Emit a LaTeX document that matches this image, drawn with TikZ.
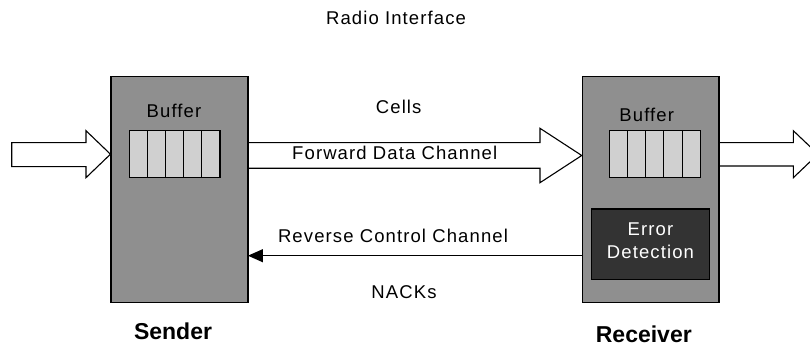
\documentclass[tikz,border=0pt]{standalone}
\usepackage{fontspec}
\setmainfont{Liberation Sans}[LetterSpace=6]
\newfontfamily\titlefont{Liberation Sans}
\usetikzlibrary{arrows.meta,calc}

\definecolor{boxgray}{HTML}{8F8F8F}
\definecolor{cellgray}{HTML}{D0D0D0}
\definecolor{darkbox}{HTML}{333333}

\tikzset{
  unit/.style={draw=black, line width=1.2pt, fill=boxgray, minimum width=136.3pt,
    minimum height=225.6pt, inner sep=0pt},
  cell/.style={draw=black, line width=1.1pt, fill=cellgray, minimum width=18.15pt,
    minimum height=47pt, inner sep=0pt},
  detect/.style={draw=black, line width=1.1pt, fill=darkbox, minimum width=117.6pt,
    minimum height=70.3pt, inner sep=0pt},
  txt/.style={anchor=base, inner sep=0pt, font=\fontsize{18.5}{22}\selectfont},
  caption/.style={anchor=base, inner sep=0pt, font=\titlefont\bfseries\fontsize{23}{27}\selectfont},
  blockarrow/.style={draw=black, line width=1.1pt, fill=white, line join=miter},
  link/.style={draw=black, line width=1.1pt, -{Triangle[length=15pt,width=13pt]}}
}

\begin{document}
\begin{tikzpicture}[x=1pt,y=-1pt]
\useasboundingbox (0,0) rectangle (810,347);

% sender and receiver units
\node[unit] (sender) at (179.2,189.5) {};
\node[unit] (receiver) at (650.5,189.5) {};

% buffers
\foreach \i in {0,...,4} {
  \node[cell] (sb\i) at ({129.3+18.14*\i+9.07},154.2) {};
  \node[cell] (rb\i) at ({609.3+18.2*\i+9.1},154.2) {};
}
\node[txt] (sbuf) at (174,117.5) {Buffer};
\node[txt] (rbuf) at (646.7,121.5) {Buffer};

% error detection block
\node[detect] (err) at (650.5,244.2) {};
\node[txt, text=white] (errtxt1) at (650.5,235) {Error};
\node[txt, text=white] (errtxt2) at (650.5,258.3) {Detection};

% incoming data arrow into the sender
\path[blockarrow] (11.7,142.7) -- (86,142.7) -- (86,130.7) -- (sender.west |- 0,154.2)
  -- (86,177.7) -- (86,166.7) -- (11.7,166.7) -- cycle;

% forward data channel
\path[blockarrow] (sender.east |- 0,142.7) -- (540,142.7) -- (540,128.3)
  -- (receiver.west |- 0,155.5) -- (540,182.7) -- (540,168.3)
  -- (sender.east |- 0,168.3);
\draw[line width=1.2pt] (sender.north east) -- (sender.south east);

% outgoing data arrow from the receiver
\begin{scope}
  \clip (0,0) rectangle (810,347);
  \path[blockarrow] (receiver.east |- 0,142.7) -- (793.3,142.7) -- (793.3,130.7)
    -- (818,154.2) -- (793.3,177.7) -- (793.3,166) -- (receiver.east |- 0,166);
\end{scope}
\draw[line width=1.2pt] (receiver.north east) -- (receiver.south east);

% reverse control channel
\coordinate (nackstart) at (receiver.west |- 0,255.7);
\coordinate (nackend) at (sender.east |- 0,255.7);
\draw[link] (nackstart) -- (nackend);

% labels
\node[txt] (radio) at (396,25) {Radio Interface};
\node[txt] (cells) at (398.7,113.3) {Cells};
\node[txt] (fwd) at (394.7,160) {Forward Data Channel};
\node[txt] (rev) at (393,242.7) {Reverse Control Channel};
\node[txt] (nacks) at (404,298.5) {NACKs};
\node[caption] (sname) at (173,339) {Sender};
\node[caption] (rname) at (643.8,342) {Receiver};
\end{tikzpicture}
\end{document}
